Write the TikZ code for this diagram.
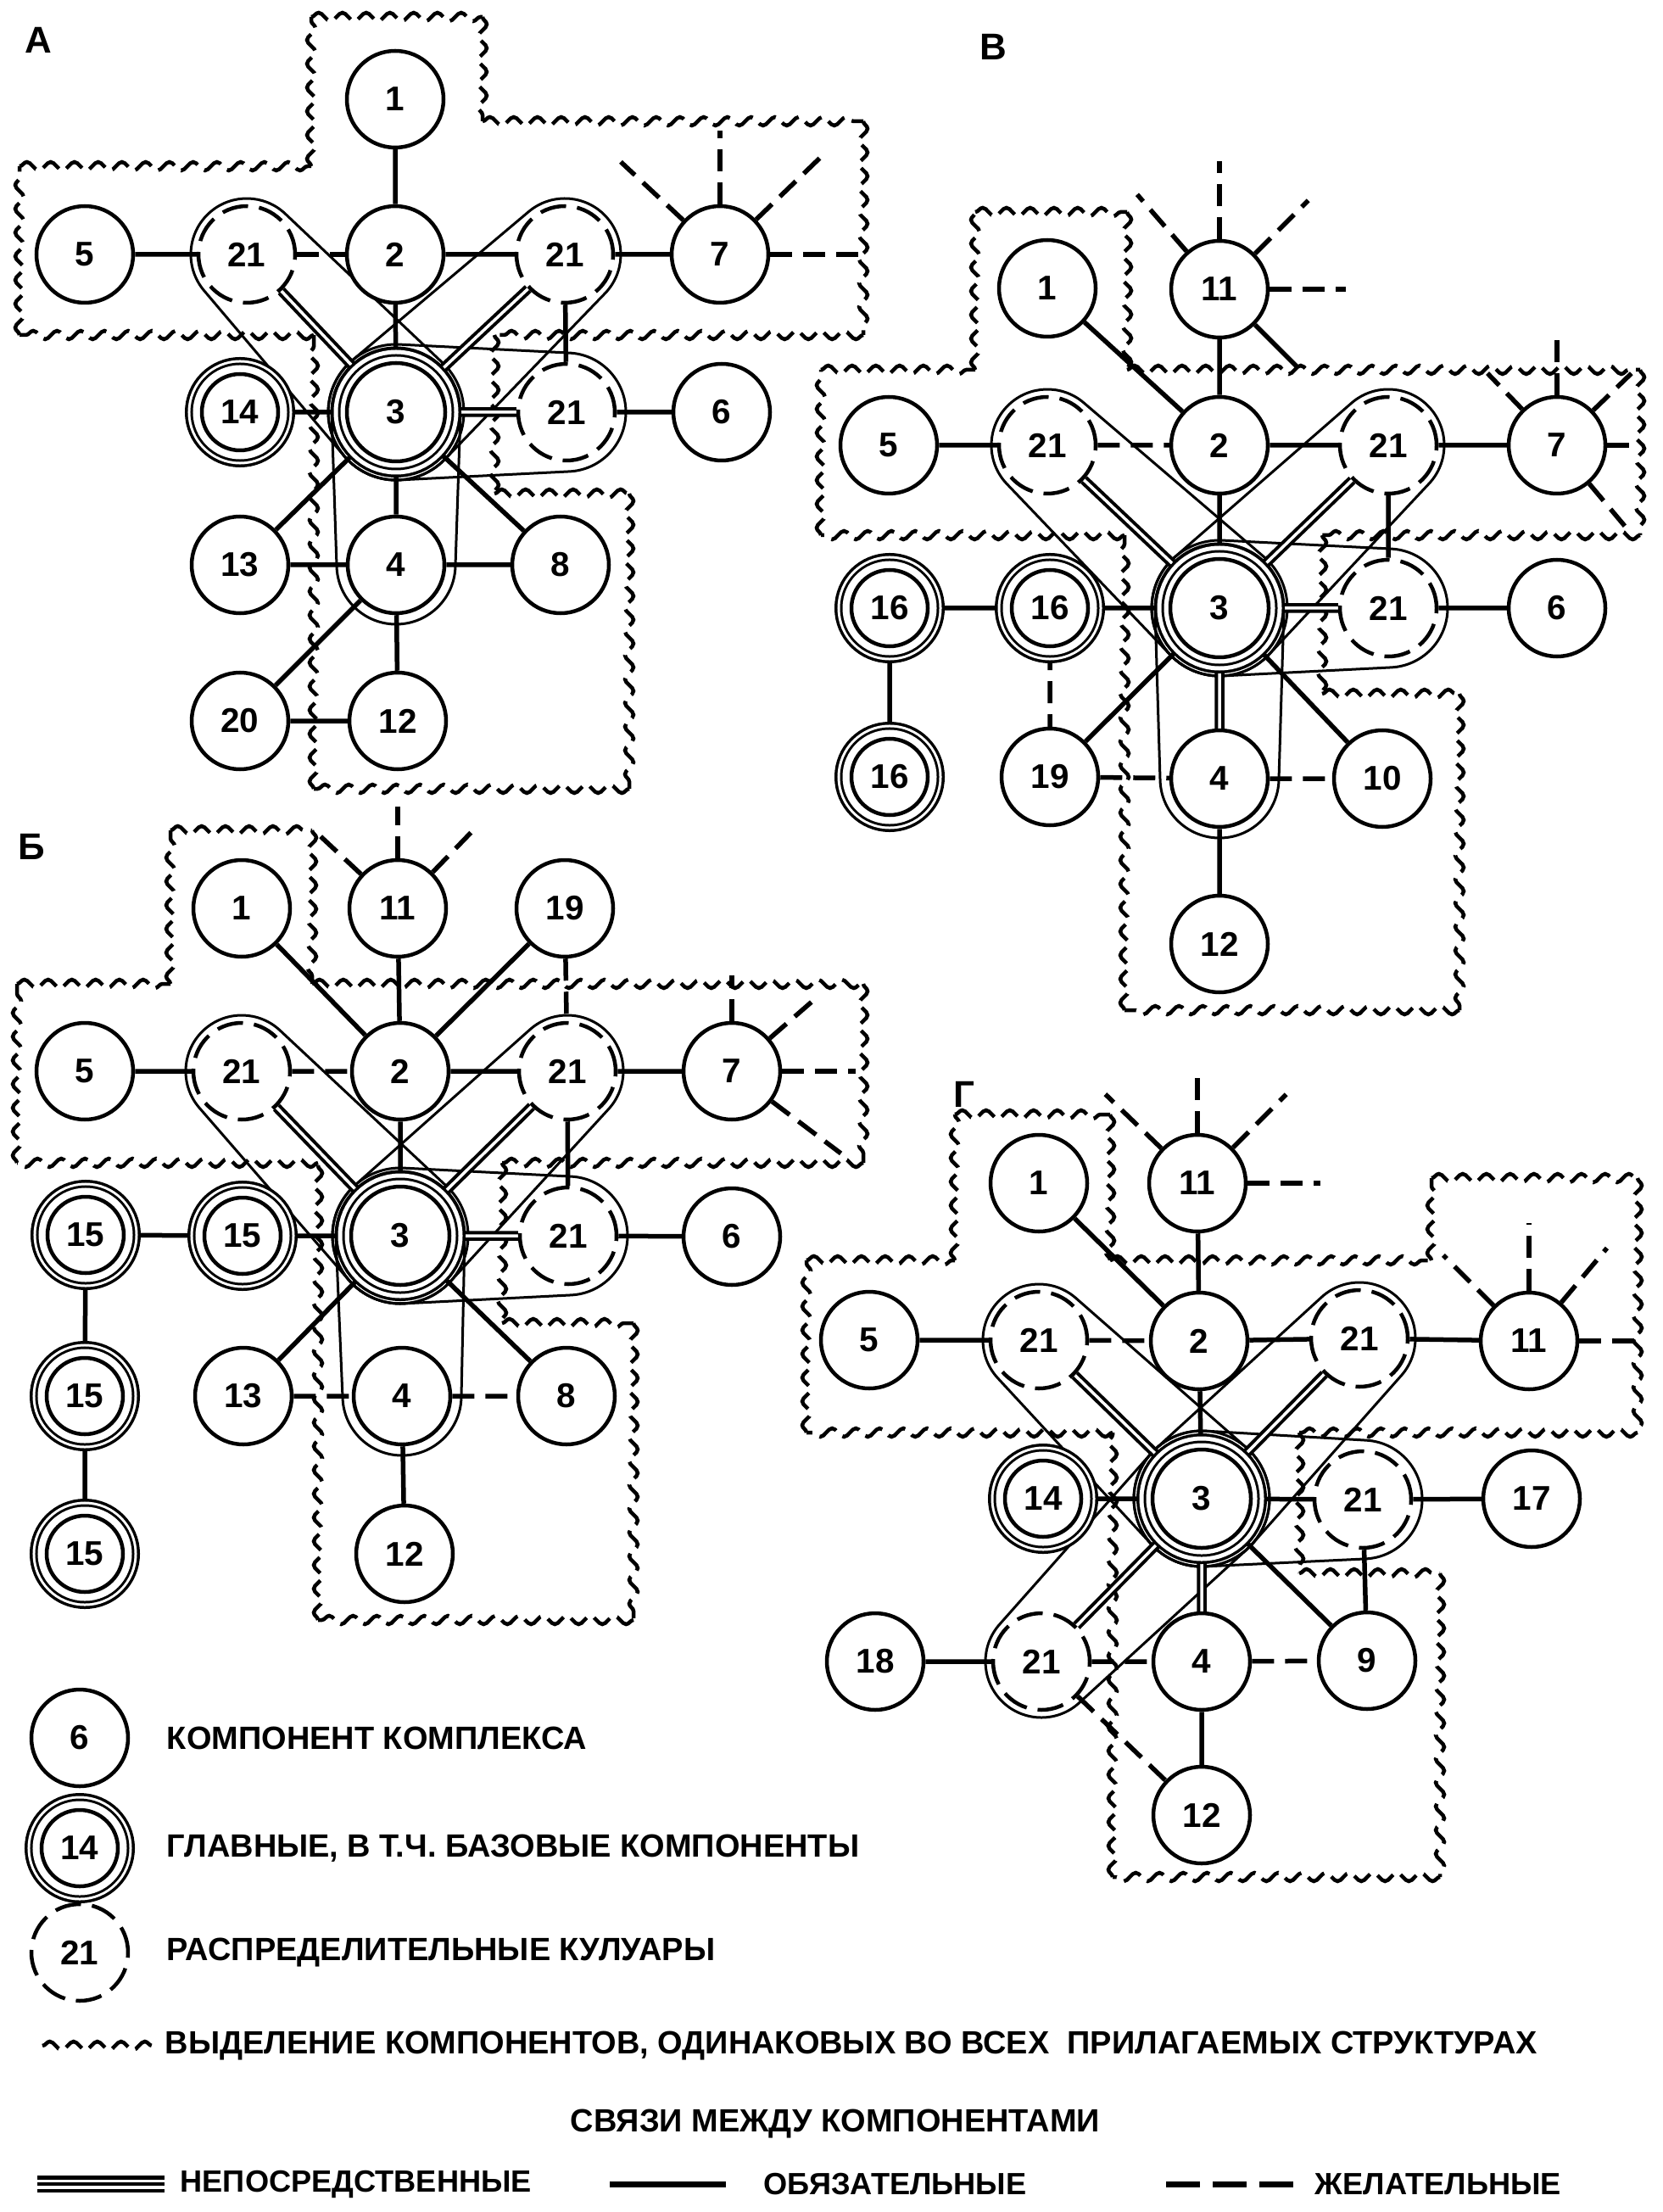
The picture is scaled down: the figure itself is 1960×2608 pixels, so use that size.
\documentclass[tikz,border=0pt]{standalone}
\usepackage{fontspec}
\setmainfont{Liberation Sans}
\usetikzlibrary{positioning,calc,backgrounds,decorations.pathmorphing}
\newcommand{\numfont}{\fontsize{11.5}{12}\selectfont\bfseries}
\newcommand{\keyfont}{\fontsize{10.8}{12}\selectfont\bfseries}
\newcommand{\linkfont}{\fontsize{10.3}{12}\selectfont\bfseries}
% outline round two nodes (radius at #1, radius at #2)
\newcommand{\hullpair}[4]{%
  \draw[hullline] let \p1=($(#2)-(#1)$), \n1={atan2(\y1,\x1)},
      \n2={veclen(\x1,\y1)}, \n3={acos((#3-#4)/\n2)} in
    ($(#1)+(\n1+\n3:#3)$) -- ($(#2)+(\n1+\n3:#4)$)
    arc[start angle=\n1+\n3, end angle=\n1-\n3, radius=#4]
    -- ($(#1)+(\n1-\n3:#3)$)
    arc[start angle=\n1-\n3, end angle=\n1+\n3-360, radius=#3] -- cycle;}
% open link leaving a node
\newcommand{\spoke}[4]{%
  \coordinate (#2-#3) at ($(#2)+(#3:#4)$);
  \draw[#1] (#2) -- (#2-#3);}

\begin{document}
\begin{tikzpicture}[x=0.1mm, y=-0.1mm,
    comp/.style={circle, draw, line width=0.45mm, fill=white, inner sep=0pt,
                 minimum size=11.4mm, font=\numfont},
    corr/.style={comp, dash pattern=on 3.1mm off 1.3mm},
    main/.style={comp, minimum size=9mm, line width=0.45mm,
                 preaction={draw, line width=0.35mm, double, double distance=3.3mm},
                 preaction={draw, line width=0.3mm, double, double distance=2.1mm}},
    hub/.style={comp, minimum size=11.6mm, line width=0.45mm,
                preaction={draw, line width=0.35mm, double, double distance=3.1mm},
                preaction={draw, line width=0.3mm, double, double distance=1.5mm}},
    must/.style={line width=0.55mm},
    want/.style={line width=0.55mm, dash pattern=on 2.6mm off 1.3mm},
    direct/.style={line width=0.4mm, double, double distance=0.35mm},
    hullline/.style={line width=0.3mm},
    wavy/.style={line width=0.45mm, dash pattern=on 2.4mm off 1mm, decorate,
                 decoration={snake, amplitude=0.5mm, segment length=2.8mm}},
    panel/.style={font=\fontsize{12.5}{13}\selectfont\bfseries},
    keytext/.style={font=\keyfont, inner sep=0pt},
    linktext/.style={font=\linkfont, inner sep=0pt, anchor=west},
  ]
    \useasboundingbox (0,0) rectangle (1960,2608);

    % structure A
    \node[panel] (labA) at (45,47) {А};
    \node[comp] (a1)   at (466,117) {1};
    \node[comp] (a5)   at (100,300) {5};
    \node[corr] (a21l) at (291,300) {21};
    \node[comp] (a2)   at (466,300) {2};
    \node[corr] (a21r) at (666,300) {21};
    \node[comp] (a7)   at (849,300) {7};
    \node[main] (a14)  at (283,486) {14};
    \node[hub]  (a3)   at (467,486) {3};
    \node[corr] (a21d) at (668,486) {21};
    \node[comp] (a6)   at (851,486) {6};
    \node[comp] (a13)  at (283,666) {13};
    \node[comp] (a4)   at (467,666) {4};
    \node[comp] (a8)   at (661,666) {8};
    \node[comp] (a20)  at (283,850) {20};
    \node[comp] (a12)  at (469,850) {12};

    % structure B (upper right)
    \node[panel] (labV) at (1171,55) {В};
    \node[comp] (v1)   at (1235,340) {1};
    \node[comp] (v11)  at (1438,341) {11};
    \node[comp] (v5)   at (1048,525) {5};
    \node[corr] (v21l) at (1235,525) {21};
    \node[comp] (v2)   at (1438,525) {2};
    \node[corr] (v21r) at (1637,525) {21};
    \node[comp] (v7)   at (1836,525) {7};
    \node[main] (v16a) at (1049,717) {16};
    \node[main] (v16b) at (1238,717) {16};
    \node[hub]  (v3)   at (1438,717) {3};
    \node[corr] (v21d) at (1637,717) {21};
    \node[comp] (v6)   at (1836,717) {6};
    \node[main] (v16c) at (1049,916) {16};
    \node[comp] (v19)  at (1238,916) {19};
    \node[comp] (v4)   at (1438,918) {4};
    \node[comp] (v10)  at (1630,918) {10};
    \node[comp] (v12)  at (1438,1113) {12};

    % structure Б
    \node[panel] (labB) at (37,998) {Б};
    \node[comp] (b1)   at (285,1071) {1};
    \node[comp] (b11)  at (469,1071) {11};
    \node[comp] (b19)  at (666,1071) {19};
    \node[comp] (b5)   at (100,1263) {5};
    \node[corr] (b21l) at (285,1263) {21};
    \node[comp] (b2)   at (472,1263) {2};
    \node[corr] (b21r) at (669,1263) {21};
    \node[comp] (b7)   at (863,1263) {7};
    \node[main] (b15a) at (101,1456) {15};
    \node[main] (b15b) at (286,1457) {15};
    \node[hub]  (b3)   at (472,1457) {3};
    \node[corr] (b21d) at (670,1457) {21};
    \node[comp] (b6)   at (863,1458) {6};
    \node[main] (b15c) at (100,1646) {15};
    \node[comp] (b13)  at (287,1646) {13};
    \node[comp] (b4)   at (474,1646) {4};
    \node[comp] (b8)   at (668,1646) {8};
    \node[main] (b15d) at (100,1832) {15};
    \node[comp] (b12)  at (477,1832) {12};

    % structure Г
    \node[panel] (labG) at (1137,1290) {Г};
    \node[comp] (g1)   at (1225,1395) {1};
    \node[comp] (g11a) at (1412,1395) {11};
    \node[comp] (g5)   at (1025,1580) {5};
    \node[corr] (g21l) at (1225,1580) {21};
    \node[comp] (g2)   at (1414,1581) {2};
    \node[corr] (g21r) at (1603,1578) {21};
    \node[comp] (g11b) at (1803,1581) {11};
    \node[main] (g14)  at (1230,1767) {14};
    \node[hub]  (g3)   at (1417,1767) {3};
    \node[corr] (g21d) at (1607,1768) {21};
    \node[comp] (g17)  at (1806,1767) {17};
    \node[comp] (g18)  at (1032,1959) {18};
    \node[corr] (g21e) at (1228,1959) {21};
    \node[comp] (g4)   at (1417,1959) {4};
    \node[comp] (g9)   at (1612,1958) {9};
    \node[comp] (g12)  at (1417,2140) {12};

    % key
    \node[comp] (keycomp) at (94,2049) {6};
    \node[keytext, right=4.3mm of keycomp] (keycomptext) {КОМПОНЕНТ КОМПЛЕКСА};
    \node[main] (keymain) at (94,2179) {14};
    \node[keytext, right=5.5mm of keymain] (keymaintext) {ГЛАВНЫЕ, В Т.Ч. БАЗОВЫЕ КОМПОНЕНТЫ};
    \node[corr] (keycorr) at (94,2302) {21};
    \node[keytext, right=4.3mm of keycorr] (keycorrtext) {РАСПРЕДЕЛИТЕЛЬНЫЕ КУЛУАРЫ};
    \coordinate (keywavyA) at (50,2412);
    \coordinate (keywavyB) at (181,2412);
    \node[keytext, anchor=west] (keywavytext) at (194,2412)
      {ВЫДЕЛЕНИЕ КОМПОНЕНТОВ, ОДИНАКОВЫХ ВО ВСЕХ\ \ ПРИЛАГАЕМЫХ СТРУКТУРАХ};
    \node[keytext] (keytitle) at (985,2504) {СВЯЗИ МЕЖДУ КОМПОНЕНТАМИ};
    \coordinate (keydirA) at (44,2575);
    \coordinate (keydirB) at (194,2575);
    \node[linktext] (keydirtext) at (212,2575) {НЕПОСРЕДСТВЕННЫЕ};
    \coordinate (keymustA) at (719,2575);
    \coordinate (keymustB) at (856,2575);
    \node[linktext] (keymusttext) at (900,2575) {ОБЯЗАТЕЛЬНЫЕ};
    \coordinate (keywantA) at (1375,2575);
    \coordinate (keywantB) at (1525,2575);
    \node[linktext] (keywanttext) at (1550,2575) {ЖЕЛАТЕЛЬНЫЕ};
    \draw[wavy] (keywavyA) -- (keywavyB);
    \draw[line width=0.45mm, double, double distance=1.1mm] (keydirA) -- (keydirB);
    \draw[line width=0.45mm] (keydirA) -- (keydirB);
    \draw[line width=0.7mm] (keymustA) -- (keymustB);
    \draw[line width=0.7mm, dash pattern=on 4mm off 1.5mm] (keywantA) -- (keywantB);

    \begin{scope}[on background layer]
      % components equal in all structures, one side at a time
      \foreach \ax/\ay/\bx/\by in {367/20/569/20, 569/20/569/143, 569/143/1018/143,
          1018/143/1018/395, 1018/395/583/395, 583/395/583/582, 583/582/742/582,
          742/582/742/930, 742/930/370/930, 370/930/370/395, 370/395/23/395,
          23/395/23/196, 23/196/367/196, 367/196/367/20}
        \draw[wavy] (\ax,\ay) -- (\bx,\by);
      \foreach \ax/\ay/\bx/\by in {1150/250/1329/250, 1329/250/1329/436,
          1329/436/1934/436, 1934/436/1934/631, 1934/631/1559/631, 1559/631/1559/818,
          1559/818/1721/818, 1721/818/1721/1191, 1721/1191/1326/1191,
          1326/1191/1326/631, 1326/631/968/631, 968/631/968/436, 968/436/1150/436,
          1150/436/1150/250}
        \draw[wavy] (\ax,\ay) -- (\bx,\by);
      \foreach \ax/\ay/\bx/\by in {201/979/368/979, 368/979/368/1160,
          368/1160/1018/1160, 1018/1160/1018/1371, 1018/1371/592/1371,
          592/1371/592/1560, 592/1560/747/1560, 747/1560/747/1910, 747/1910/375/1910,
          375/1910/375/1371, 375/1371/20/1371, 20/1371/20/1160, 20/1160/201/1160,
          201/1160/201/979}
        \draw[wavy] (\ax,\ay) -- (\bx,\by);
      \foreach \ax/\ay/\bx/\by in {1126/1314/1309/1314, 1309/1314/1309/1486,
          1309/1486/1688/1486, 1688/1486/1688/1389, 1688/1389/1931/1389,
          1931/1389/1931/1689, 1931/1689/1532/1689, 1532/1689/1532/1855,
          1532/1855/1698/1855, 1698/1855/1698/2213, 1698/2213/1312/2213,
          1312/2213/1312/1689, 1312/1689/951/1689, 951/1689/951/1486,
          951/1486/1126/1486, 1126/1486/1126/1314}
        \draw[wavy] (\ax,\ay) -- (\bx,\by);

      % A
      \hullpair{a21l}{a3}{6.6mm}{8mm}
      \hullpair{a21r}{a3}{6.6mm}{8mm}
      \hullpair{a21d}{a3}{7mm}{8mm}
      \hullpair{a4}{a3}{7mm}{7.6mm}
      \draw[must] (a1) -- (a2) (a5) -- (a21l) (a2) -- (a21r) (a21r) -- (a7)
        (a21r) -- (a21d) (a2) -- (a3) (a14) -- (a3) (a21d) -- (a6) (a3) -- (a4)
        (a3) -- (a13) (a3) -- (a8) (a13) -- (a4) (a4) -- (a8) (a4) -- (a20)
        (a20) -- (a12) (a4) -- (a12);
      \draw[want] (a21l) -- (a2);
      \draw[direct] (a21l) -- (a3) (a21r) -- (a3) (a3) -- (a21d);
      \spoke{want}{a7}{137}{16mm}
      \spoke{want}{a7}{90}{14.6mm}
      \spoke{want}{a7}{44}{16.5mm}
      \spoke{want}{a7}{0}{16.5mm}

      % B (upper right)
      \hullpair{v21l}{v3}{6.6mm}{8mm}
      \hullpair{v21r}{v3}{6.6mm}{8mm}
      \hullpair{v21d}{v3}{7mm}{8mm}
      \hullpair{v4}{v3}{7mm}{7.6mm}
      \draw[must] (v1) -- (v2) (v11) -- (v2) (v5) -- (v21l) (v2) -- (v21r)
        (v21r) -- (v7) (v21r) -- (v21d) (v2) -- (v3) (v16a) -- (v16b)
        (v16b) -- (v3) (v21d) -- (v6) (v16a) -- (v16c) (v3) -- (v19)
        (v3) -- (v10) (v4) -- (v12);
      \draw[want] (v21l) -- (v2) (v16b) -- (v19) (v19) -- (v4) (v4) -- (v10);
      \draw[direct] (v21l) -- (v3) (v21r) -- (v3) (v3) -- (v21d) (v3) -- (v4);
      \spoke{want}{v11}{90}{15.1mm}
      \spoke{want}{v11}{131}{14.8mm}
      \spoke{want}{v11}{45}{14.8mm}
      \spoke{want}{v11}{0}{14.9mm}
      \spoke{must}{v11}{315}{13mm}
      \spoke{want}{v7}{90}{13.2mm}
      \spoke{want}{v7}{134}{11.8mm}
      \spoke{want}{v7}{44}{12.2mm}
      \spoke{want}{v7}{0}{9.7mm}
      \spoke{want}{v7}{310}{13.4mm}

      % Б
      \hullpair{b21l}{b3}{6.6mm}{8mm}
      \hullpair{b21r}{b3}{6.6mm}{8mm}
      \hullpair{b21d}{b3}{7mm}{8mm}
      \hullpair{b4}{b3}{7mm}{7.6mm}
      \draw[must] (b1) -- (b2) (b11) -- (b2) (b19) -- (b2) (b5) -- (b21l)
        (b2) -- (b21r) (b21r) -- (b7) (b21r) -- (b21d) (b2) -- (b3)
        (b15a) -- (b15b) (b15b) -- (b3) (b21d) -- (b6) (b15a) -- (b15c)
        (b15c) -- (b15d) (b3) -- (b13) (b3) -- (b8) (b4) -- (b12);
      \draw[want] (b21l) -- (b2) (b19) -- (b21r) (b13) -- (b4) (b4) -- (b8);
      \draw[direct] (b21l) -- (b3) (b21r) -- (b3) (b3) -- (b21d);
      \spoke{want}{b11}{90}{12mm}
      \spoke{want}{b11}{137}{13.3mm}
      \spoke{want}{b11}{46}{12.6mm}
      \spoke{want}{b7}{90}{11.3mm}
      \spoke{want}{b7}{41}{13.6mm}
      \spoke{want}{b7}{0}{14.6mm}
      \spoke{want}{b7}{323}{16.1mm}

      % Г
      \hullpair{g21l}{g3}{6.6mm}{8mm}
      \hullpair{g21r}{g3}{6.6mm}{8mm}
      \hullpair{g21d}{g3}{7mm}{8mm}
      \hullpair{g21e}{g3}{6.6mm}{8mm}
      \draw[must] (g1) -- (g2) (g11a) -- (g2) (g5) -- (g21l) (g2) -- (g21r)
        (g21r) -- (g11b) (g2) -- (g3) (g14) -- (g3) (g3) -- (g21d)
        (g21d) -- (g17) (g21d) -- (g9) (g18) -- (g21e) (g4) -- (g12)
        (g3) -- (g9);
      \draw[want] (g21l) -- (g2) (g21e) -- (g4) (g4) -- (g9) (g21e) -- (g12);
      \draw[direct] (g21l) -- (g3) (g21r) -- (g3) (g3) -- (g21e) (g3) -- (g4);
      \spoke{want}{g11a}{90}{13.5mm}
      \spoke{want}{g11a}{136}{15.1mm}
      \spoke{want}{g11a}{45}{14.8mm}
      \spoke{want}{g11a}{0}{14.5mm}
      \spoke{want}{g11b}{90}{13.9mm}
      \spoke{want}{g11b}{135}{14.3mm}
      \spoke{want}{g11b}{50}{14.3mm}
      \spoke{want}{g11b}{0}{12.6mm}
    \end{scope}
\end{tikzpicture}
\end{document}
